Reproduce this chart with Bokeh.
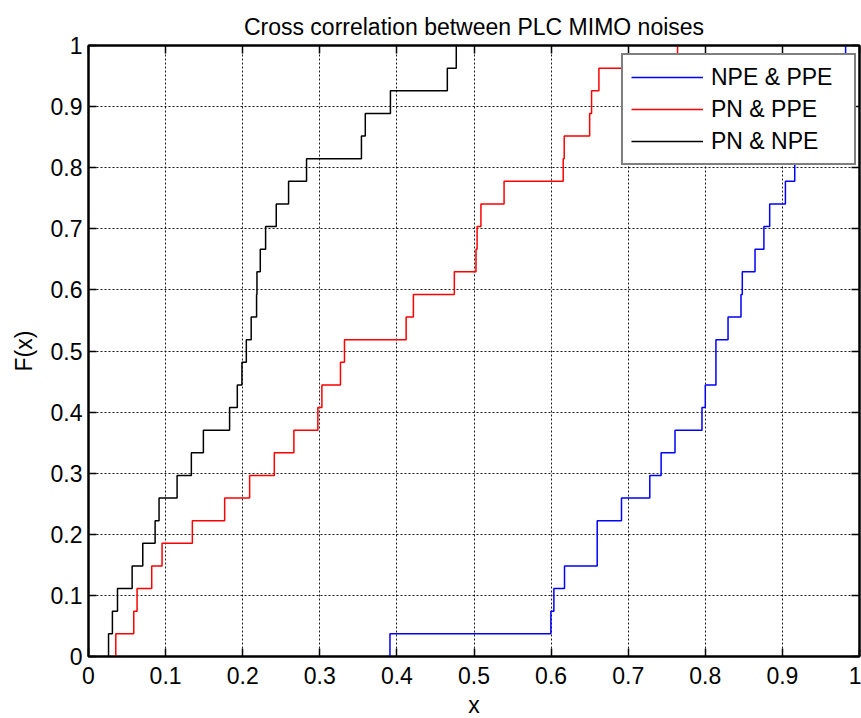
import numpy as np
from bokeh.plotting import figure
from bokeh.models import Range1d, LinearAxis, Legend, LegendItem, FixedTicker
from bokeh.embed import file_html
from bokeh.resources import INLINE

# ---------------- data ----------------
title_text = "Cross correlation between PLC MIMO noises"
x_label = "x"
y_label = "F(x)"

series_names = ["NPE & PPE", "PN & PPE", "PN & NPE"]
series_colors = ["#0000ff", "#ff0000", "#000000"]

npe_ppe = [0.391, 0.5997, 0.6036, 0.6174, 0.6598, 0.6598, 0.6913, 0.728, 0.7427,
           0.7607, 0.7957, 0.800, 0.8138, 0.8138, 0.8295, 0.8463, 0.848, 0.8645,
           0.876, 0.8835, 0.9039, 0.916, 0.930, 0.945, 0.955, 0.968, 0.982]
pn_ppe = [0.0354, 0.0587, 0.063, 0.082, 0.0954, 0.1347, 0.1766, 0.209, 0.241,
          0.2664, 0.2975, 0.3027, 0.3268, 0.332, 0.412, 0.4214, 0.4745, 0.5026,
          0.504, 0.509, 0.539, 0.6157, 0.617, 0.650, 0.6525, 0.662, 0.764]
pn_npe = [0.026, 0.031, 0.0376, 0.0566, 0.0704, 0.0864, 0.0915, 0.1149, 0.1334,
          0.149, 0.183, 0.193, 0.199, 0.2047, 0.211, 0.218, 0.2185, 0.2228,
          0.2297, 0.2435, 0.2595, 0.2828, 0.354, 0.359, 0.3916, 0.4654, 0.477]

x_ticks = [0.0, 0.1, 0.2, 0.3, 0.4, 0.5, 0.6, 0.7, 0.8, 0.9, 1.0]
x_tick_labels = ["0", "0.1", "0.2", "0.3", "0.4", "0.5", "0.6", "0.7", "0.8", "0.9", "1"]
y_ticks = [0.0, 0.1, 0.2, 0.3, 0.4, 0.5, 0.6, 0.7, 0.8, 0.9, 1.0]
y_tick_labels = ["0", "0.1", "0.2", "0.3", "0.4", "0.5", "0.6", "0.7", "0.8", "0.9", "1"]

FONT = "Liberation Sans"
FS = "23px"
TICK_FS = "23px"


def ecdf(samples):
    s = np.sort(np.asarray(samples, dtype=float))
    n = len(s)
    xs = np.concatenate([[s[0]], s])
    ys = np.arange(n + 1) / n
    return xs, ys


p = figure(frame_width=771, frame_height=611,
           min_border_left=88, min_border_right=2, min_border_top=45, min_border_bottom=62,
           x_range=Range1d(0, 1), y_range=Range1d(0, 1),
           output_backend="svg", toolbar_location=None,
           background_fill_color="white", border_fill_color="white")

p.title.text = title_text
p.title.align = "center"
p.title.text_font = FONT
p.title.text_font_size = FS
p.title.text_font_style = "normal"
p.title.text_color = "black"
p.title.standoff = 11

p.outline_line_color = "black"
p.outline_line_width = 2

xt = FixedTicker(ticks=x_ticks)
yt = FixedTicker(ticks=y_ticks)


def style_axis(ax, ticker, labels_map, show_labels=True):
    ax.ticker = ticker
    ax.major_label_overrides = labels_map
    ax.axis_line_color = "black"
    ax.axis_line_width = 2
    ax.major_tick_in = 8
    ax.major_tick_out = 0
    ax.major_tick_line_color = "black"
    ax.major_tick_line_width = 1.5
    ax.minor_tick_line_color = None
    ax.major_label_text_font = FONT
    ax.major_label_text_color = "black"
    if show_labels:
        ax.major_label_text_font_size = TICK_FS
    else:
        ax.major_label_text_font_size = "0px"
        ax.major_label_standoff = 0


x_map = {t: l for t, l in zip(x_ticks, x_tick_labels)}
y_map = {t: l for t, l in zip(y_ticks, y_tick_labels)}

style_axis(p.xaxis[0], xt, x_map)
style_axis(p.yaxis[0], yt, y_map)
p.xaxis[0].major_label_standoff = 10
p.yaxis[0].major_label_standoff = 6

p.xaxis[0].axis_label = x_label
p.yaxis[0].axis_label = y_label
for ax in (p.xaxis[0], p.yaxis[0]):
    ax.axis_label_text_font = FONT
    ax.axis_label_text_font_size = FS
    ax.axis_label_text_font_style = "normal"
    ax.axis_label_text_color = "black"
p.xaxis[0].axis_label_standoff = 5
p.yaxis[0].axis_label_standoff = 11

top_ax = LinearAxis()
style_axis(top_ax, xt, {t: "" for t in x_ticks}, show_labels=False)
p.add_layout(top_ax, "above")
right_ax = LinearAxis()
style_axis(right_ax, yt, {t: "" for t in y_ticks}, show_labels=False)
p.add_layout(right_ax, "right")

for g in (p.xgrid[0], p.ygrid[0]):
    g.grid_line_color = "black"
    g.grid_line_alpha = 0.9
    g.grid_line_width = 1
    g.grid_line_dash = "2 2"
p.xgrid[0].ticker = xt
p.ygrid[0].ticker = yt

items = []
for name, color, data in zip(series_names, series_colors, [npe_ppe, pn_ppe, pn_npe]):
    xs, ys = ecdf(data)
    r = p.step(xs, ys, mode="after", line_color=color, line_width=1.5)
    items.append(LegendItem(label=name, renderers=[r]))

legend = Legend(items=items, location=(533, 491), margin=0, padding=8,
                glyph_width=72, glyph_height=28, label_height=28, label_width=135,
                label_standoff=8, spacing=4,
                label_text_font=FONT, label_text_font_size=FS, label_text_color="black",
                border_line_color="black", border_line_width=2,
                background_fill_color="white", background_fill_alpha=1.0)
p.add_layout(legend, "center")

open("out.html", "w").write(file_html(p, INLINE))
